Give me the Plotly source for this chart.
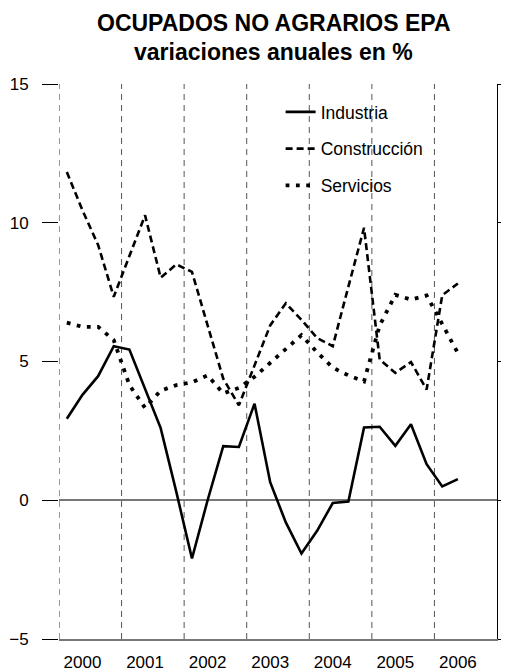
import plotly.graph_objects as go

# Quarterly data, 2000 Q1 .. 2006 Q2 (annual % change)
years = ["2000", "2001", "2002", "2003", "2004", "2005", "2006"]
quarters_per_year = 4
industria = [2.94, 3.80, 4.47, 5.55, 5.43, 4.00, 2.60, 0.30, -2.10, 0.00, 1.95, 1.92, 3.48,
             0.65, -0.80, -1.92, -1.10, -0.10, -0.05, 2.62, 2.65, 1.96, 2.74, 1.30, 0.50, 0.76]
construccion = [11.83, 10.45, 9.20, 7.33, 8.80, 10.27, 8.02, 8.50, 8.23, 6.30, 4.38, 3.42, 4.85,
                6.30, 7.10, 6.50, 5.85, 5.55, 7.70, 9.82, 5.07, 4.59, 4.98, 3.99, 7.39, 7.81]
servicios = [6.40, 6.25, 6.25, 5.77, 4.15, 3.33, 3.95, 4.15, 4.25, 4.50, 3.85, 4.05, 4.45,
             4.95, 5.45, 5.95, 5.33, 4.78, 4.50, 4.28, 6.30, 7.40, 7.23, 7.38, 6.35, 5.30]
y_ticks = [-5, 0, 5, 10, 15]

FONT = "Liberation Sans, Arial, Helvetica, sans-serif"
x = list(range(len(industria)))
n_q = len(years) * quarters_per_year
x_range = [-0.5, n_q - 0.5]

fig = go.Figure()
fig.add_trace(go.Scatter(x=x, y=industria, mode="lines", name="Industria",
                         legendgroup="a", line=dict(color="black", width=2.6)))
fig.add_trace(go.Scatter(x=x, y=construccion, mode="lines", name="Construcción",
                         legendgroup="b", line=dict(color="black", width=2.6, dash="7px,4px")))
fig.add_trace(go.Scatter(x=x, y=servicios, mode="lines", name="Servicios",
                         legendgroup="c", line=dict(color="black", width=3.8, dash="3.8px,6.5px")))
# invisible trace so the right-hand axis exists
fig.add_trace(go.Scatter(x=[], y=[], yaxis="y2", showlegend=False, hoverinfo="skip"))

# year separators (dashed vertical lines)
shapes = []
for k in range(len(years)):
    xb = k * quarters_per_year - 0.5
    shapes.append(dict(type="line", xref="x", yref="y", x0=xb, x1=xb, y0=-5, y1=15,
                       line=dict(color="#333333" if k == 0 else "#555555", width=1,
                                 dash="6px,5px"), layer="below"))

year_pos = [k * quarters_per_year + 1 for k in range(len(years))]

fig.update_layout(
    width=501, height=664,
    margin=dict(l=51, r=12, t=76, b=33, autoexpand=False),
    paper_bgcolor="white", plot_bgcolor="white",
    font=dict(family=FONT, size=17, color="black"),
    shapes=shapes,
    showlegend=True,
    legend=dict(x=0.506, y=0.982, xanchor="left", yanchor="top",
                bgcolor="rgba(0,0,0,0)", borderwidth=0,
                font=dict(family=FONT, size=17.5, color="black"),
                tracegroupgap=11, traceorder="grouped"),
    xaxis=dict(range=x_range, tickmode="array", tickvals=year_pos, ticktext=years,
               showgrid=False, zeroline=False, ticks="", showline=True, automargin=False,
               linecolor="#777777", linewidth=1.5, ticklabelstandoff=7,
               tickfont=dict(family=FONT, size=17, color="black")),
    yaxis=dict(range=[-5, 15], tickmode="array", tickvals=y_ticks, automargin=False,
               showgrid=False, zeroline=True, zerolinecolor="#777777", zerolinewidth=1.5,
               showline=False, ticks="outside", ticklen=16, tickcolor="black", tickwidth=1,
               ticklabelstandoff=10,
               tickfont=dict(family=FONT, size=17, color="black")),
    yaxis2=dict(range=[-5, 15], overlaying="y", side="right", tickmode="array",
                tickvals=y_ticks, showticklabels=False, showgrid=False, zeroline=False,
                automargin=False,
                showline=True, linecolor="black", linewidth=1, ticks="outside",
                ticklen=14, tickcolor="black", tickwidth=1),
    annotations=[
        dict(text="<b>OCUPADOS NO AGRARIOS EPA</b>", xref="paper", yref="paper",
             x=0.49, y=1 + (84 - 23) / 555, xanchor="center", yanchor="middle",
             showarrow=False, font=dict(family=FONT, size=23, color="black")),
        dict(text="<b>variaciones anuales en %</b>", xref="paper", yref="paper",
             x=0.49, y=1 + (84 - 52) / 555, xanchor="center", yanchor="middle",
             showarrow=False, font=dict(family=FONT, size=23, color="black")),
    ],
)

fig.write_html("out.html")
